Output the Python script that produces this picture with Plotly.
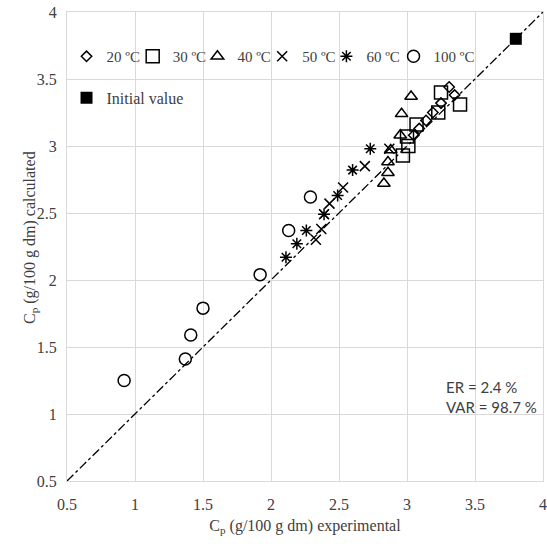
import plotly.graph_objects as go

x20 = [3.05, 3.09, 3.14, 3.19, 3.25, 3.31, 3.35]
y20 = [3.08, 3.13, 3.19, 3.25, 3.32, 3.44, 3.38]
x30 = [2.97, 3.01, 3.00, 3.07, 3.23, 3.25, 3.39]
y30 = [2.93, 3.00, 3.07, 3.16, 3.25, 3.40, 3.31]
x40 = [2.83, 2.86, 2.86, 2.88, 2.95, 2.96, 3.03]
y40 = [2.72, 2.80, 2.88, 2.97, 3.08, 3.24, 3.37]
x50 = [2.33, 2.37, 2.39, 2.43, 2.53, 2.69, 2.87]
y50 = [2.30, 2.38, 2.49, 2.57, 2.69, 2.85, 2.98]
x60 = [2.11, 2.19, 2.26, 2.39, 2.49, 2.60, 2.73]
y60 = [2.17, 2.27, 2.37, 2.49, 2.63, 2.82, 2.98]
x100 = [0.92, 1.37, 1.41, 1.50, 1.92, 2.13, 2.29]
y100 = [1.25, 1.41, 1.59, 1.79, 2.04, 2.37, 2.62]
x_init = [3.8]
y_init = [3.8]
line_xy = [0.5, 4.0]

series = [
    ("20 ºC", x20, y20, "diamond-open", 8),
    ("30 ºC", x30, y30, "square-open", 13),
    ("40 ºC", x40, y40, "triangle-up-open", 11),
    ("50 ºC", x50, y50, "x-thin-open", 10),
    ("60 ºC", x60, y60, "asterisk-open", 10),
    ("100 ºC", x100, y100, "circle-open", 12),
]
legend_x = [-0.001, 0.138, 0.274, 0.410, 0.545, 0.686]

SERIF = "Liberation Serif, Times New Roman, serif"
GRAY = "#404040"

fig = go.Figure()
fig.add_trace(go.Scatter(x=line_xy, y=line_xy, mode="lines",
                         line=dict(color="black", width=1.3, dash="dashdot"),
                         showlegend=False, hoverinfo="skip"))
legends = {}
for i, (name, xs, ys, sym, sz) in enumerate(series):
    lg = "legend" if i == 0 else f"legend{i + 1}"
    fig.add_trace(go.Scatter(x=xs, y=ys, mode="markers", name=name, legend=lg,
                             marker=dict(symbol=sym, size=sz, color="black",
                                         line=dict(color="black", width=1.5))))
    legends[lg] = dict(x=legend_x[i], y=0.905, xanchor="left", yanchor="middle",
                       bgcolor="rgba(0,0,0,0)", itemwidth=30,
                       font=dict(family=SERIF, size=15, color=GRAY))
fig.add_trace(go.Scatter(x=x_init, y=y_init, mode="markers", name="Initial value",
                         marker=dict(symbol="square", size=12, color="black"),
                         legend="legend7"))
legends["legend7"] = dict(x=-0.001, y=0.817, xanchor="left", yanchor="middle",
                          bgcolor="rgba(0,0,0,0)", itemwidth=30,
                          font=dict(family=SERIF, size=16, color=GRAY))

fig.update_layout(
    width=547, height=544,
    margin=dict(l=67, r=4, t=12, b=63, autoexpand=False),
    plot_bgcolor="white", paper_bgcolor="white",
    font=dict(family=SERIF, size=16, color=GRAY),
    xaxis=dict(range=[0.5, 4], dtick=0.5, showgrid=True, gridcolor="#d9d9d9",
               showline=True, linecolor="#d9d9d9", mirror=True, zeroline=False,
               ticks="", automargin=False, ticklabelstandoff=9,
               tickfont=dict(family=SERIF, size=16, color=GRAY),
               title=dict(text="C<sub>p</sub> (g/100 g dm) experimental",
                          font=dict(family=SERIF, size=16, color=GRAY), standoff=7)),
    yaxis=dict(range=[0.5, 4], dtick=0.5, showgrid=True, gridcolor="#d9d9d9",
               showline=True, linecolor="#d9d9d9", mirror=True, zeroline=False,
               ticks="", automargin=False, ticklabelstandoff=6,
               tickfont=dict(family=SERIF, size=16, color=GRAY)),
    annotations=[
        dict(text="ER = 2.4 %<br>VAR = 98.7 %", x=0.792, y=0.18,
             xref="paper", yref="paper", xanchor="left", yanchor="middle",
             align="left", showarrow=False,
             font=dict(family="Lato, sans-serif", size=15, color=GRAY)),
        dict(text="C<sub>p</sub> (g/100 g dm) calculated", x=-0.078, y=0.52,
             xref="paper", yref="paper", xanchor="center", yanchor="middle",
             textangle=-90, showarrow=False,
             font=dict(family=SERIF, size=16, color=GRAY)),
    ],
    **legends,
)

fig.write_html("out.html", config={"displayModeBar": False},
               post_script="document.body.style.margin='0';document.body.style.overflow='hidden';")
